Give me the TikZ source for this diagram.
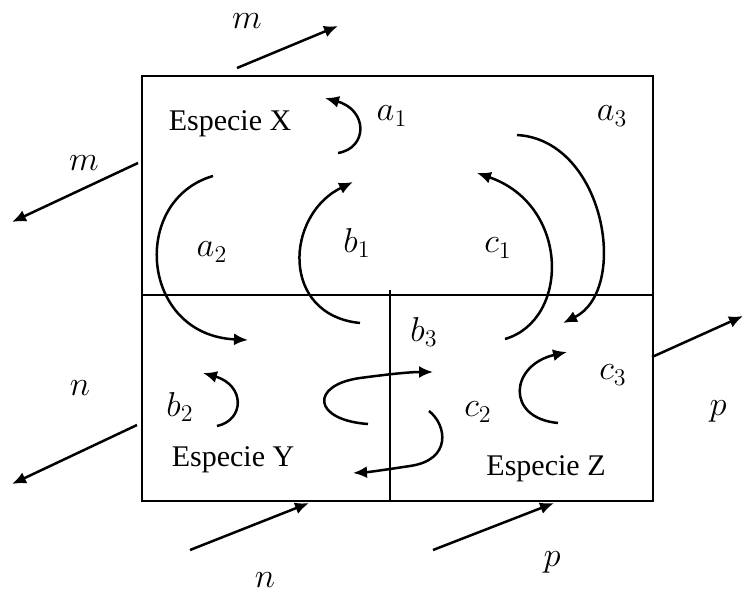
\documentclass[tikz,border=0pt]{standalone}
\usepackage{fontspec}
\setmainfont{Liberation Serif}
\usetikzlibrary{arrows.meta}
\begin{document}
\begin{tikzpicture}[x=0.5pt,y=-0.5pt,
  lbl/.style={inner sep=0pt,font=\fontsize{16.5}{19}\selectfont},
  sp/.style={inner sep=0pt,font=\fontsize{15}{18}\selectfont},
  flow/.style={line width=1.25pt,-{Latex[length=7pt,width=6pt]}},
  frame/.style={line width=1.35pt},
  divider/.style={line width=1pt}]
\useasboundingbox (0,0) rectangle (743,595);
% frame
\draw[frame] (142,76) rectangle (653,501);
\draw[divider] (142,295) -- (653,295);
\draw[divider] (390,290) -- (390,501);
% species labels
\node[sp] (X) at (230,124) {Especie X};
\node[sp] (Y) at (233,460) {Especie Y};
\node[sp] (Z) at (546,469) {Especie Z};
% parameter labels
\node[lbl] (la1) at (392,116) {$a_1$};
\node[lbl] (la3) at (612,116) {$a_3$};
\node[lbl] (la2) at (212,252) {$a_2$};
\node[lbl] (lb1) at (357,243) {$b_1$};
\node[lbl] (lc1) at (498,248) {$c_1$};
\node[lbl] (lb3) at (424,332) {$b_3$};
\node[lbl] (lb2) at (180,407) {$b_2$};
\node[lbl] (lc2) at (478,412) {$c_2$};
\node[lbl] (lc3) at (613,375) {$c_3$};
\node[lbl] (lmt) at (247,21) {$m$};
\node[lbl] (lml) at (84,163) {$m$};
\node[lbl] (lnl) at (80,388) {$n$};
\node[lbl] (lnb) at (265,580) {$n$};
\node[lbl] (lpb) at (552,562) {$p$};
\node[lbl] (lpr) at (718,411) {$p$};
% outside arrow end points
\coordinate (mt0) at (237,68);  \coordinate (mt1) at (338,26);
\coordinate (ml0) at (138,163); \coordinate (ml1) at (12,222);
\coordinate (nl0) at (137,425); \coordinate (nl1) at (12,484);
\coordinate (nb0) at (190,550); \coordinate (nb1) at (309,503);
\coordinate (pb0) at (433,550); \coordinate (pb1) at (554,503);
\coordinate (pr0) at (652,357); \coordinate (pr1) at (743,316);
\draw[flow] (mt0) -- (mt1);
\draw[flow] (ml0) -- (ml1);
\draw[flow] (nl0) -- (nl1);
\draw[flow] (nb0) -- (nb1);
\draw[flow] (pb0) -- (pb1);
\draw[flow] (pr0) -- (pr1);
% internal flow curves
\coordinate (a2s) at (213,176); \coordinate (a2e) at (248,340);
\draw[flow] (a2s) .. controls (130,200) and (140,335) .. (a2e);
\coordinate (b1s) at (360,323); \coordinate (b1e) at (353,182);
\draw[flow] (b1s) .. controls (280,315) and (285,215) .. (b1e);
\coordinate (c1s) at (505,339); \coordinate (c1e) at (477,173);
\draw[flow] (c1s) .. controls (570,320) and (570,205) .. (c1e);
\coordinate (a3s) at (517,135); \coordinate (a3e) at (563,323);
\draw[flow] (a3s) .. controls (605,140) and (630,290) .. (a3e);
\coordinate (a1s) at (338,153); \coordinate (a1e) at (325,98);
\draw[flow] (a1s) .. controls (368,148) and (368,110) .. (a1e);
\coordinate (b2s) at (217,426); \coordinate (b2e) at (203,373);
\draw[flow] (b2s) .. controls (245,420) and (245,385) .. (b2e);
\coordinate (c3s) at (558,423); \coordinate (c3e) at (567,352);
\draw[flow] (c3s) .. controls (505,418) and (510,365) .. (c3e);
\coordinate (b3s) at (368,424); \coordinate (b3m) at (360,378); \coordinate (b3e) at (433,372);
\draw[flow] (b3s) .. controls (312,420) and (310,385) .. (b3m)
  .. controls (390,374) and (410,372) .. (b3e);
\coordinate (c2s) at (429,411); \coordinate (c2m) at (410,466); \coordinate (c2e) at (353,473);
\draw[flow] (c2s) .. controls (447,425) and (452,460) .. (c2m)
  .. controls (390,469) and (370,472) .. (c2e);
\end{tikzpicture}
\end{document}
